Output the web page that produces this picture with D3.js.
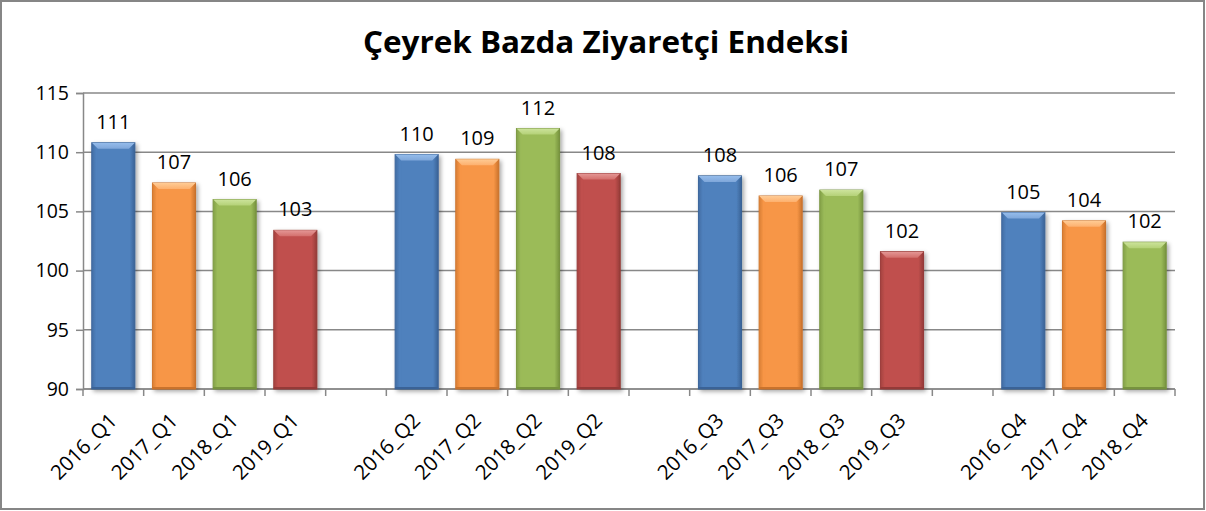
<!DOCTYPE html>
<html>
<head>
<meta charset="utf-8">
<script src="https://cdn.jsdelivr.net/npm/d3@7/dist/d3.min.js"></script>
<style>
  html, body { margin: 0; padding: 0; background: #fff; }
  svg { display: block; }
  text { font-family: "Open Sans", "DejaVu Sans", sans-serif; fill: #000; }
</style>
</head>
<body>
<svg id="chart" width="1206" height="511"></svg>
<script>
// ---- data ----
const categories = ["2016_Q1","2017_Q1","2018_Q1","2019_Q1","",
                    "2016_Q2","2017_Q2","2018_Q2","2019_Q2"," ",
                    "2016_Q3","2017_Q3","2018_Q3","2019_Q3","  ",
                    "2016_Q4","2017_Q4","2018_Q4"];
const values = [110.8, 107.4, 106.0, 103.4, null,
                109.8, 109.4, 112.0, 108.2, null,
                108.0, 106.3, 106.8, 101.6, null,
                104.9, 104.2, 102.4];
const years = ["2016","2017","2018","2019"];
const yTicks = [90, 95, 100, 105, 110, 115];
const title = "Çeyrek Bazda Ziyaretçi Endeksi";

const palette = {
  "2016": {base:"#4F81BD", light:"#7FA7DA", dark:"#3A6296", top:"#95BCEB"},
  "2017": {base:"#F79646", light:"#FDB06E", dark:"#C9722C", top:"#FFCB94"},
  "2018": {base:"#9BBB59", light:"#B4D177", dark:"#76923E", top:"#CCE39B"},
  "2019": {base:"#C0504D", light:"#D36F6C", dark:"#943A38", top:"#E49795"}
};

const svg = d3.select("#chart");
const W = 1206, H = 511;
const m = {left: 83, right: 31, top: 93, bottom: 122};

// border
svg.append("rect").attr("x", 1).attr("y", 1).attr("width", W - 3).attr("height", H - 3)
  .attr("fill", "#fff").attr("stroke", "#868686").attr("stroke-width", 2);

// title
svg.append("text").attr("x", 606).attr("y", 53).attr("text-anchor", "middle")
  .attr("font-size", 30).attr("font-weight", "bold")
  .attr("textLength", 486).attr("lengthAdjust", "spacingAndGlyphs")
  .text(title);

const x = d3.scaleBand().domain(categories).range([m.left, W - m.right]).paddingInner(0.29).paddingOuter(0.145);
const y = d3.scaleLinear().domain([90, 115]).range([H - m.bottom, m.top]);

// defs: gradients and shadow
const defs = svg.append("defs");
years.forEach(yr => {
  const c = palette[yr];
  const g = defs.append("linearGradient").attr("id", "g" + yr).attr("x1", 0).attr("x2", 1).attr("y1", 0).attr("y2", 0);
  g.append("stop").attr("offset", "0%").attr("stop-color", c.dark);
  g.append("stop").attr("offset", "10%").attr("stop-color", c.base);
  g.append("stop").attr("offset", "45%").attr("stop-color", c.base);
  g.append("stop").attr("offset", "88%").attr("stop-color", c.base);
  g.append("stop").attr("offset", "100%").attr("stop-color", c.dark);
  const t = defs.append("linearGradient").attr("id", "t" + yr).attr("x1", 0).attr("x2", 0).attr("y1", 0).attr("y2", 1);
  t.append("stop").attr("offset", "0%").attr("stop-color", c.top);
  t.append("stop").attr("offset", "100%").attr("stop-color", c.light);
});
const f = defs.append("filter").attr("id", "shadow").attr("x", "-20%").attr("y", "-5%").attr("width", "150%").attr("height", "115%");
f.append("feDropShadow").attr("dx", 2).attr("dy", 2).attr("stdDeviation", 2).attr("flood-color", "#000").attr("flood-opacity", 0.35);

// gridlines
svg.append("g").selectAll("line").data(yTicks).join("line")
  .attr("x1", m.left).attr("x2", W - m.right)
  .attr("y1", d => y(d)).attr("y2", d => y(d))
  .attr("stroke", "#888").attr("stroke-width", 1.5);

// y axis
const yAxis = d3.axisLeft(y).tickValues(yTicks).tickSize(7).tickPadding(7);
const ya = svg.append("g").attr("transform", `translate(${m.left},0)`).call(yAxis);
ya.attr("font-size", 19.5).attr("font-family", "Open Sans, sans-serif");
ya.select(".domain").attr("stroke", "#888").attr("stroke-width", 1.5);
ya.selectAll(".tick line").attr("stroke", "#888").attr("stroke-width", 1.5);
ya.selectAll("text").attr("fill", "#000");

// x axis line and ticks at slot boundaries
const xa = svg.append("g");
xa.append("line").attr("x1", m.left).attr("x2", W - m.right).attr("y1", y(90)).attr("y2", y(90))
  .attr("stroke", "#888").attr("stroke-width", 1.5);
const bounds = d3.range(categories.length + 1).map(i => m.left + i * (W - m.left - m.right) / categories.length);
xa.selectAll("line.tk").data(bounds).join("line").attr("class", "tk")
  .attr("x1", d => d).attr("x2", d => d).attr("y1", y(90)).attr("y2", y(90) + 7)
  .attr("stroke", "#888").attr("stroke-width", 1.5);

const data = categories.map((c, i) => ({c, v: values[i], yr: c.trim() ? c.slice(0, 4) : null})).filter(d => d.v != null);

// bars
const bw = x.bandwidth();
const bars = svg.append("g").selectAll("g.bar").data(data).join("g").attr("class", "bar");
bars.append("rect")
  .attr("x", d => x(d.c)).attr("y", d => y(d.v))
  .attr("width", bw).attr("height", d => y(90) - y(d.v))
  .attr("fill", d => `url(#g${d.yr})`)
  .attr("stroke", d => palette[d.yr].dark).attr("stroke-width", 1)
  .attr("filter", "url(#shadow)");
// top bevel
const bev = 6;
bars.append("path")
  .attr("d", d => {
    const x0 = x(d.c), y0 = y(d.v);
    return `M${x0},${y0}L${x0 + bw},${y0}L${x0 + bw - bev},${y0 + bev}L${x0 + bev},${y0 + bev}Z`;
  })
  .attr("fill", d => `url(#t${d.yr})`);
// side bevel left
bars.append("path")
  .attr("d", d => {
    const x0 = x(d.c), y0 = y(d.v), y1 = y(90);
    return `M${x0},${y0}L${x0 + bev},${y0 + bev}L${x0 + bev},${y1}L${x0},${y1}Z`;
  })
  .attr("fill", d => palette[d.yr].base).attr("opacity", 0.35);
// bottom edge
bars.append("rect")
  .attr("x", d => x(d.c)).attr("y", y(90) - 2).attr("width", bw).attr("height", 2)
  .attr("fill", d => palette[d.yr].dark);

// value labels
svg.append("g").selectAll("text").data(data).join("text")
  .attr("x", d => x(d.c) + bw / 2).attr("y", d => y(d.v) - 14)
  .attr("text-anchor", "middle").attr("font-size", 20)
  .text(d => Math.round(d.v));

// category labels
svg.append("g").selectAll("text").data(data).join("text")
  .attr("transform", d => `translate(${x(d.c) + bw / 2 + 5},${y(90) + 33}) rotate(-45)`)
  .attr("text-anchor", "end").attr("font-size", 20.5)
  .text(d => d.c);
</script>
</body>
</html>
